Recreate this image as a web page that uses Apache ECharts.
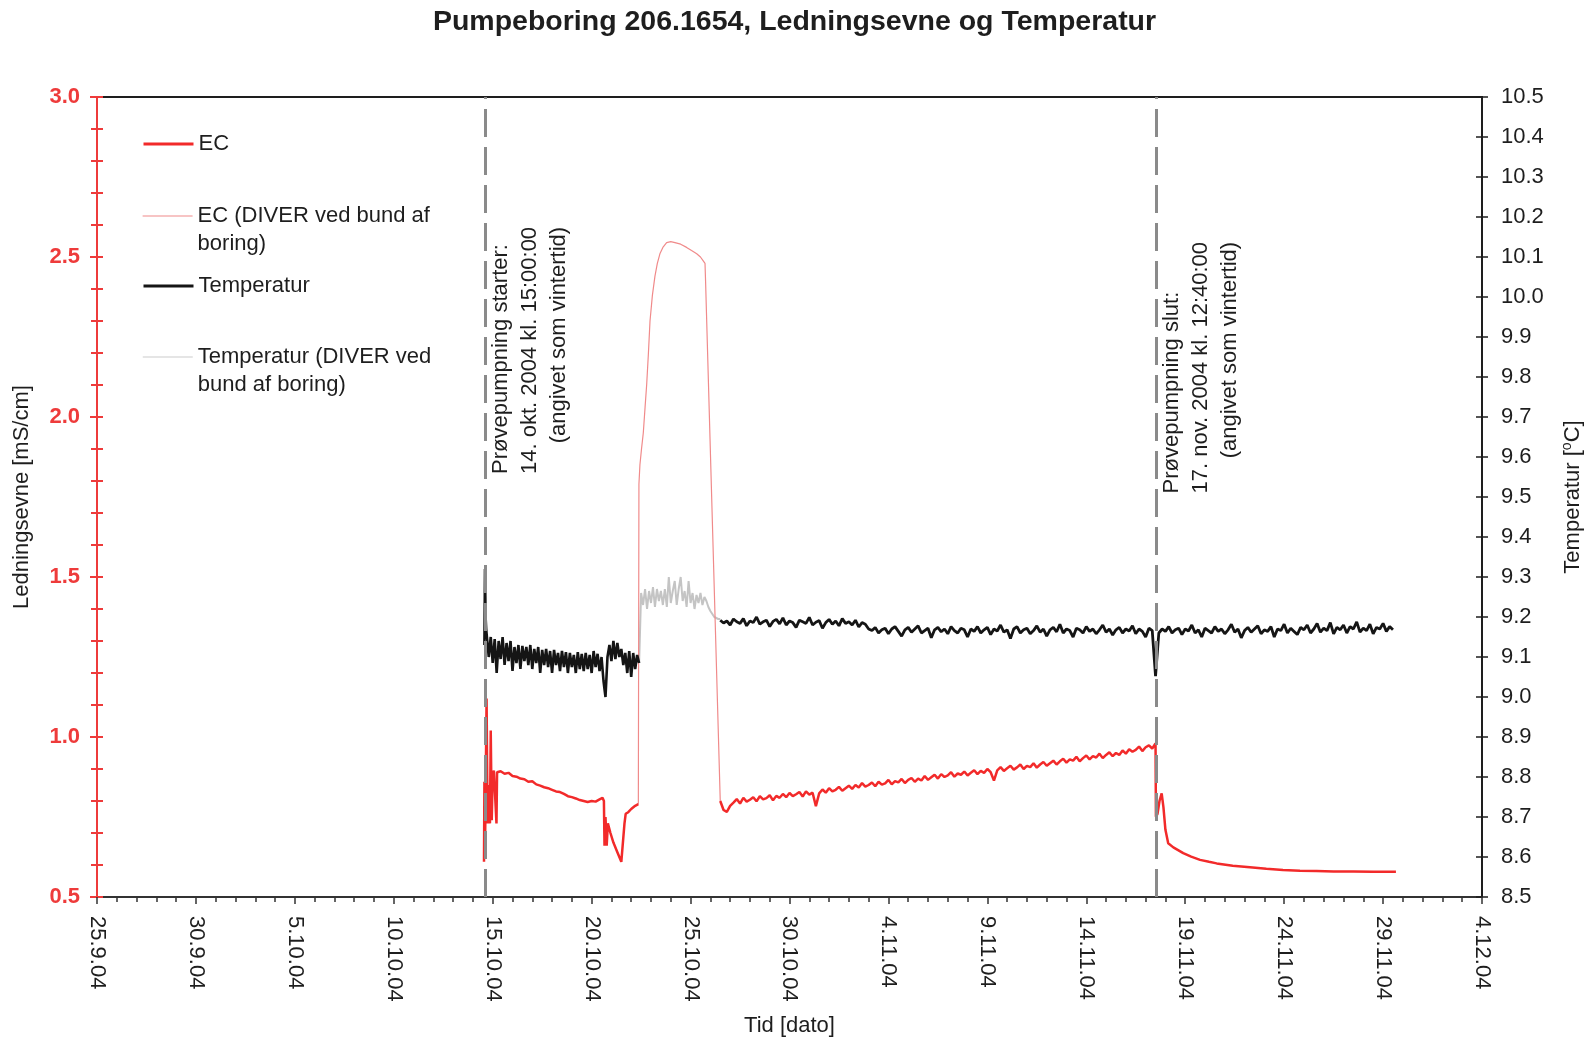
<!DOCTYPE html>
<html>
<head>
<meta charset="utf-8">
<title>Pumpeboring 206.1654</title>
<script src="https://cdn.jsdelivr.net/npm/echarts/dist/echarts.min.js"></script>
<style>
  html, body { margin: 0; padding: 0; background: #ffffff; }
  #chart { width: 1589px; height: 1048px; }
</style>
</head>
<body>
<div id="chart"></div>
<script>
// Time is counted in days from 25.9.2004 00:00.
const xTickLabels = ['25.9.04', '30.9.04', '5.10.04', '10.10.04', '15.10.04', '20.10.04', '25.10.04',
  '30.10.04', '4.11.04', '9.11.04', '14.11.04', '19.11.04', '24.11.04', '29.11.04', '4.12.04'];

const pumpStartDay = 19 + 15 / 24;            // 14.10.2004 15:00
const pumpEndDay = 53 + (12 + 40 / 60) / 24;  // 17.11.2004 12:40

// EC [mS/cm], logger in the pumping line, first pumping days
const ecPumpStart = [
  [19.56, 0.61], [19.58, 0.86], [19.62, 0.70], [19.69, 1.12], [19.74, 0.73], [19.80, 0.85],
  [19.86, 0.73], [19.90, 1.02], [19.95, 0.74], [20.00, 0.88], [20.06, 0.895], [20.16, 0.89],
  [20.19, 0.73], [20.22, 0.89], [20.4, 0.893], [20.6, 0.885], [20.8, 0.888], [21.0, 0.878],
  [21.2, 0.876], [21.4, 0.87], [21.6, 0.868], [21.8, 0.86], [22.0, 0.862], [22.2, 0.852],
  [22.4, 0.848], [22.6, 0.843], [22.8, 0.84], [23.0, 0.835], [23.2, 0.83], [23.4, 0.828],
  [23.6, 0.822], [23.8, 0.815], [24.0, 0.812], [24.2, 0.808], [24.4, 0.803], [24.6, 0.80],
  [24.8, 0.797], [25.0, 0.80], [25.2, 0.798], [25.4, 0.805], [25.55, 0.81], [25.62, 0.80],
  [25.65, 0.66], [25.7, 0.75], [25.76, 0.66], [25.82, 0.73], [25.95, 0.70], [26.1, 0.67],
  [26.3, 0.64], [26.5, 0.61], [26.6, 0.605], [26.66, 0.73], [26.72, 0.76], [26.85, 0.765],
  [27.0, 0.775], [27.1, 0.77], [27.2, 0.785], [27.3, 0.78], [27.36, 0.79]
];

// EC [mS/cm], diver at the bottom of the well
const ecDiver = [
  [27.36, 0.79], [27.39, 1.79], [27.44, 1.85], [27.52, 1.90], [27.61, 1.95], [27.70, 2.03],
  [27.78, 2.10], [27.87, 2.20], [27.95, 2.30], [28.07, 2.38], [28.2, 2.44], [28.32, 2.48],
  [28.45, 2.51], [28.6, 2.53], [28.79, 2.545], [29.0, 2.548], [29.21, 2.545], [29.5, 2.54],
  [29.8, 2.53], [30.05, 2.52], [30.31, 2.51], [30.5, 2.50], [30.64, 2.488], [30.73, 2.48],
  [30.76, 2.42], [31.5, 0.80]
];

// EC [mS/cm], pumping line logger, every 4 hours from day 31.5
const ecLogStart = 31.5, ecLogStep = 1 / 6;
const ecPumpLate = [
  0.800, 0.772, 0.766, 0.785, 0.795, 0.806, 0.792, 0.810, 0.798, 0.804, 0.812, 0.799, 0.815, 0.805, 0.809, 0.818, 0.802, 0.816, 0.810, 0.822,
  0.812, 0.825, 0.815, 0.821, 0.828, 0.814, 0.830, 0.820, 0.826, 0.784, 0.824, 0.836, 0.826, 0.840, 0.830, 0.835, 0.844, 0.832, 0.840, 0.848,
  0.838, 0.850, 0.842, 0.856, 0.845, 0.850, 0.858, 0.846, 0.860, 0.851, 0.855, 0.866, 0.852, 0.862, 0.858, 0.869, 0.856, 0.866, 0.872, 0.860,
  0.870, 0.864, 0.878, 0.866, 0.874, 0.882, 0.870, 0.884, 0.875, 0.880, 0.890, 0.876, 0.886, 0.882, 0.892, 0.880, 0.888, 0.896, 0.884, 0.894,
  0.888, 0.900, 0.890, 0.864, 0.896, 0.906, 0.894, 0.902, 0.910, 0.898, 0.905, 0.914, 0.900, 0.910, 0.906, 0.918, 0.904, 0.914, 0.922, 0.910,
  0.918, 0.926, 0.914, 0.924, 0.932, 0.920, 0.930, 0.926, 0.938, 0.924, 0.934, 0.942, 0.930, 0.940, 0.936, 0.948, 0.934, 0.944, 0.952, 0.940,
  0.950, 0.944, 0.958, 0.948, 0.962, 0.954, 0.960, 0.970, 0.956, 0.968, 0.974, 0.964, 0.980
];

// EC [mS/cm], recovery after the pump was stopped
const ecRecovery = [
  [53.52, 0.751], [53.6, 0.76], [53.7, 0.80], [53.81, 0.824], [53.9, 0.78], [54.0, 0.71],
  [54.14, 0.668], [54.4, 0.655], [54.9, 0.637], [55.3, 0.626], [55.75, 0.616], [56.2, 0.61],
  [56.59, 0.605], [57.4, 0.598], [58.27, 0.593], [59.1, 0.588], [59.94, 0.584], [60.8, 0.582],
  [61.64, 0.581], [62.5, 0.58], [63.5, 0.58], [64.5, 0.579], [65.65, 0.579]
];

// Temperature [°C], pumping line logger, first pumping days
const tempPumpHead = [[19.58, 9.13], [19.61, 9.32], [19.64, 9.20], [19.67, 9.17]];
const tempLog1Start = 19.7, tempLog1Step = 0.1;
const tempPumpStart = [
  9.165, 9.10, 9.150, 9.085, 9.145, 9.06, 9.140, 9.095, 9.150, 9.08,
  9.135, 9.09, 9.140, 9.065, 9.125, 9.085, 9.130, 9.07, 9.128, 9.09,
  9.125, 9.08, 9.130, 9.07, 9.120, 9.085, 9.125, 9.06, 9.118, 9.08,
  9.120, 9.075, 9.115, 9.06, 9.118, 9.08, 9.110, 9.065, 9.115, 9.075,
  9.112, 9.06, 9.110, 9.075, 9.105, 9.06, 9.112, 9.07, 9.108, 9.065,
  9.110, 9.07, 9.105, 9.06, 9.115, 9.075, 9.108, 9.065, 9.100, 9.04,
  9.00, 9.10, 9.13, 9.09, 9.14, 9.095, 9.135, 9.10, 9.12, 9.08,
  9.11, 9.06, 9.115, 9.05, 9.11, 9.07, 9.105, 9.085
];

// Temperature [°C], diver at the bottom of the well
const tempDiverStart = 27.4, tempDiverStep = 0.1;
const tempDiver = [
  9.085,
  9.26, 9.23, 9.27, 9.22, 9.265, 9.235, 9.275, 9.225, 9.27, 9.24,
  9.265, 9.23, 9.27, 9.225, 9.30, 9.235, 9.265, 9.29, 9.23, 9.27,
  9.30, 9.24, 9.265, 9.225, 9.29, 9.235, 9.26, 9.22, 9.255, 9.235,
  9.26, 9.23, 9.25, 9.24, 9.225, 9.215, 9.21, 9.20, 9.198, 9.195,
  9.195
];

// Temperature [°C], pumping line logger, every 4 hours from day 31.5
const tempLog2Start = 31.5, tempLog2Step = 1 / 6;
const tempPumpLate = [
  9.192, 9.185, 9.190, 9.180, 9.195, 9.188, 9.184, 9.196, 9.178, 9.190, 9.186, 9.200, 9.182, 9.188, 9.192, 9.176, 9.189, 9.194, 9.183, 9.198,
  9.180, 9.190, 9.186, 9.174, 9.192, 9.188, 9.184, 9.199, 9.180, 9.187, 9.191, 9.172, 9.186, 9.194, 9.182, 9.190, 9.178, 9.196, 9.184, 9.188,
  9.180, 9.192, 9.175, 9.186, 9.182, 9.170, 9.166, 9.174, 9.160, 9.168, 9.172, 9.158, 9.170, 9.176, 9.164, 9.152, 9.168, 9.174, 9.162, 9.170,
  9.178, 9.160, 9.166, 9.172, 9.148, 9.168, 9.174, 9.163, 9.170, 9.158, 9.176, 9.166, 9.160, 9.172, 9.168, 9.150, 9.170, 9.164, 9.176, 9.160,
  9.168, 9.174, 9.156, 9.170, 9.165, 9.180, 9.162, 9.168, 9.146, 9.170, 9.176, 9.160, 9.168, 9.172, 9.158, 9.166, 9.178, 9.162, 9.170, 9.152,
  9.168, 9.174, 9.163, 9.182, 9.160, 9.170, 9.166, 9.150, 9.172, 9.168, 9.160, 9.176, 9.164, 9.170, 9.158, 9.168, 9.180, 9.162, 9.170, 9.155,
  9.168, 9.174, 9.160, 9.170, 9.165, 9.178, 9.158, 9.170, 9.164, 9.150, 9.172, 9.166, 9.052, 9.160, 9.170, 9.164, 9.176, 9.160, 9.168, 9.172,
  9.156, 9.170, 9.165, 9.180, 9.160, 9.168, 9.150, 9.172, 9.166, 9.160, 9.176, 9.164, 9.170, 9.158, 9.168, 9.182, 9.162, 9.170, 9.148, 9.166,
  9.174, 9.162, 9.170, 9.178, 9.158, 9.168, 9.164, 9.176, 9.150, 9.170, 9.166, 9.182, 9.160, 9.172, 9.164, 9.156, 9.174, 9.168, 9.180, 9.160,
  9.170, 9.184, 9.162, 9.172, 9.166, 9.186, 9.158, 9.174, 9.168, 9.180, 9.160, 9.176, 9.170, 9.188, 9.162, 9.172, 9.166, 9.182, 9.158, 9.174,
  9.170, 9.184, 9.164, 9.176, 9.168
];

const annotStartText = ['Prøvepumpning starter:', '14. okt. 2004 kl. 15:00:00', '(angivet som vintertid)'];
const annotEndText = ['Prøvepumpning slut:', '17. nov. 2004 kl. 12:40:00', '(angivet som vintertid)'];
const annotStartLevel = 1.822;  // EC level where the note starts
const annotEndLevel = 1.761;

// Regularly logged series -> [day, value] pairs
const logged = (start, step, vals) => vals.map((v, i) => [start + i * step, v]);

const FONT = '"Liberation Sans", Arial, Helvetica, sans-serif';
const RED = '#f22a2a';
const PINK = '#f08a8a';
const GREY = '#c4c4c4';
const BLACK = '#151515';
const AXIS_RED = '#ee3b3b';
const INK = '#1e1e1e';

const chart = echarts.init(document.getElementById('chart'), null, { renderer: 'canvas' });

const legendBase = {
  orient: 'vertical', left: 142, padding: 0, itemWidth: 50, itemHeight: 14,
  selectedMode: false,
  itemStyle: { opacity: 0 },
  textStyle: { fontFamily: FONT, fontSize: 22, color: INK, lineHeight: 28 }
};
// two-line entries: an empty leading line puts the first text line level with the icon
const legendTwoLine = Object.assign({}, legendBase, { formatter: name => '\n' + name });

const ecName = 'EC';
const ecDiverName = 'EC (DIVER ved bund af\nboring)';
const tempName = 'Temperatur';
const tempDiverName = 'Temperatur (DIVER ved\nbund af boring)';

const lineCommon = { type: 'line', showSymbol: false, symbol: 'none', animation: false, silent: true };

const option = {
  animation: false,
  backgroundColor: '#ffffff',
  title: {
    text: 'Pumpeboring 206.1654, Ledningsevne og Temperatur',
    left: 'center', top: 3,
    textStyle: { fontFamily: FONT, fontSize: 28.5, fontWeight: 'bold', color: INK }
  },
  legend: [
    Object.assign({}, legendBase, { top: 130, data: [ecName], lineStyle: { color: RED, width: 3 } }),
    Object.assign({}, legendTwoLine, { top: 174, data: [ecDiverName], lineStyle: { color: PINK, width: 1.2 } }),
    Object.assign({}, legendBase, { top: 272, data: [tempName], lineStyle: { color: BLACK, width: 3 } }),
    Object.assign({}, legendTwoLine, { top: 315, data: [tempDiverName], lineStyle: { color: '#dcdcdc', width: 1.5 } })
  ],
  grid: {
    left: 97, right: 107, top: 97, bottom: 151,
    show: true, borderColor: INK, borderWidth: 2, backgroundColor: 'transparent',
    containLabel: false, outerBoundsMode: 'none'
  },
  xAxis: {
    type: 'value', min: 0, max: 70, interval: 5,
    name: 'Tid [dato]', nameLocation: 'middle', nameGap: 118,
    nameTextStyle: { fontFamily: FONT, fontSize: 22, color: INK },
    axisLine: { show: true, onZero: false, lineStyle: { color: '#333333', width: 2 } },
    axisTick: { show: true, inside: false, length: 7, lineStyle: { color: '#333333', width: 1.5 } },
    minorTick: { show: true, splitNumber: 5, length: 5, lineStyle: { color: '#333333', width: 1.5 } },
    axisLabel: {
      rotate: -90, margin: 19, fontFamily: FONT, fontSize: 22, color: INK,
      formatter: v => xTickLabels[Math.round(v / 5)] || ''
    },
    splitLine: { show: false }, minorSplitLine: { show: false }
  },
  yAxis: [
    {
      type: 'value', position: 'left', min: 0.5, max: 3.0, interval: 0.5,
      name: 'Ledningsevne [mS/cm]', nameLocation: 'middle', nameGap: 64, nameRotate: 90,
      nameTextStyle: { fontFamily: FONT, fontSize: 22, color: INK },
      axisLine: { show: true, onZero: false, lineStyle: { color: AXIS_RED, width: 2 } },
      axisTick: { show: true, inside: false, length: 7, lineStyle: { color: AXIS_RED, width: 2 } },
      minorTick: { show: true, splitNumber: 5, length: 6, lineStyle: { color: AXIS_RED, width: 2 } },
      axisLabel: {
        margin: 17, fontFamily: FONT, fontSize: 22, fontWeight: 'bold', color: AXIS_RED,
        formatter: v => v.toFixed(1)
      },
      splitLine: { show: false }, minorSplitLine: { show: false }
    },
    {
      type: 'value', position: 'right', min: 8.5, max: 10.5, interval: 0.1,
      name: 'Temperatur [{sup|o}C]', nameLocation: 'middle', nameGap: 78, nameRotate: 90,
      nameTextStyle: {
        fontFamily: FONT, fontSize: 22, color: INK, lineHeight: 26,
        rich: { sup: { fontFamily: FONT, fontSize: 14, color: INK, verticalAlign: 'top', lineHeight: 14 } }
      },
      axisLine: { show: true, onZero: false, lineStyle: { color: INK, width: 2 } },
      axisTick: { show: true, inside: false, length: 6, lineStyle: { color: INK, width: 1.5 } },
      axisLabel: {
        margin: 19, fontFamily: FONT, fontSize: 22, color: INK,
        formatter: v => v.toFixed(1)
      },
      splitLine: { show: false }
    },
    // inner halves of the crossing tick marks on both value axes
    {
      type: 'value', position: 'left', min: 0.5, max: 3.0, interval: 0.1,
      axisLine: { show: false },
      axisTick: { show: true, inside: true, length: 6, lineStyle: { color: AXIS_RED, width: 2 } },
      axisLabel: { show: false }, splitLine: { show: false }
    },
    {
      type: 'value', position: 'right', min: 8.5, max: 10.5, interval: 0.1,
      axisLine: { show: false },
      axisTick: { show: true, inside: true, length: 6, lineStyle: { color: INK, width: 1.5 } },
      axisLabel: { show: false }, splitLine: { show: false }
    }
  ],
  series: [
    Object.assign({}, lineCommon, {
      name: tempDiverName, yAxisIndex: 1, color: GREY,
      lineStyle: { color: GREY, width: 2 },
      data: logged(tempDiverStart, tempDiverStep, tempDiver),
      markLine: {
        silent: true, symbol: ['none', 'none'], animation: false,
        label: { show: false },
        lineStyle: { color: '#8a8a8a', width: 3, type: [28, 10] },
        data: [{ xAxis: pumpStartDay }, { xAxis: pumpEndDay }]
      }
    }),
    Object.assign({}, lineCommon, {
      name: ecDiverName, yAxisIndex: 0, color: PINK,
      lineStyle: { color: PINK, width: 1.2 },
      data: ecDiver
    }),
    Object.assign({}, lineCommon, {
      name: tempName, yAxisIndex: 1, color: BLACK,
      lineStyle: { color: BLACK, width: 2.6 },
      data: tempPumpHead.concat(logged(tempLog1Start, tempLog1Step, tempPumpStart))
    }),
    Object.assign({}, lineCommon, {
      name: tempName, yAxisIndex: 1, color: BLACK,
      lineStyle: { color: BLACK, width: 2.8 },
      data: logged(tempLog2Start, tempLog2Step, tempPumpLate)
    }),
    Object.assign({}, lineCommon, {
      name: ecName, yAxisIndex: 0, color: RED,
      lineStyle: { color: RED, width: 2.5 },
      data: ecPumpStart
    }),
    Object.assign({}, lineCommon, {
      name: ecName, yAxisIndex: 0, color: RED,
      lineStyle: { color: RED, width: 2.5 },
      data: logged(ecLogStart, ecLogStep, ecPumpLate).concat(ecRecovery)
    })
  ]
};

chart.setOption(option);

// Rotated notes next to the pumping start / stop markers
function noteElement(lines, day, level) {
  const x = chart.convertToPixel({ xAxisIndex: 0 }, day);
  const y = chart.convertToPixel({ yAxisIndex: 0 }, level);
  return {
    type: 'text', x: x + 1, y: y, rotation: Math.PI / 2, silent: true, z: 10,
    style: {
      text: '{l|' + lines[0] + '}\n{m|' + lines[1] + '}\n{r|' + lines[2] + '}',
      fontFamily: FONT, fontSize: 22, lineHeight: 29, fill: INK,
      align: 'left', verticalAlign: 'top',
      rich: {
        l: { align: 'left', fontFamily: FONT, fontSize: 22, lineHeight: 29, fill: INK },
        m: { align: 'left', fontFamily: FONT, fontSize: 22, lineHeight: 29, fill: INK },
        r: { align: 'right', fontFamily: FONT, fontSize: 22, lineHeight: 29, fill: INK }
      }
    }
  };
}

chart.setOption({
  graphic: [
    noteElement(annotStartText, pumpStartDay, annotStartLevel),
    noteElement(annotEndText, pumpEndDay, annotEndLevel)
  ]
});
</script>
</body>
</html>
